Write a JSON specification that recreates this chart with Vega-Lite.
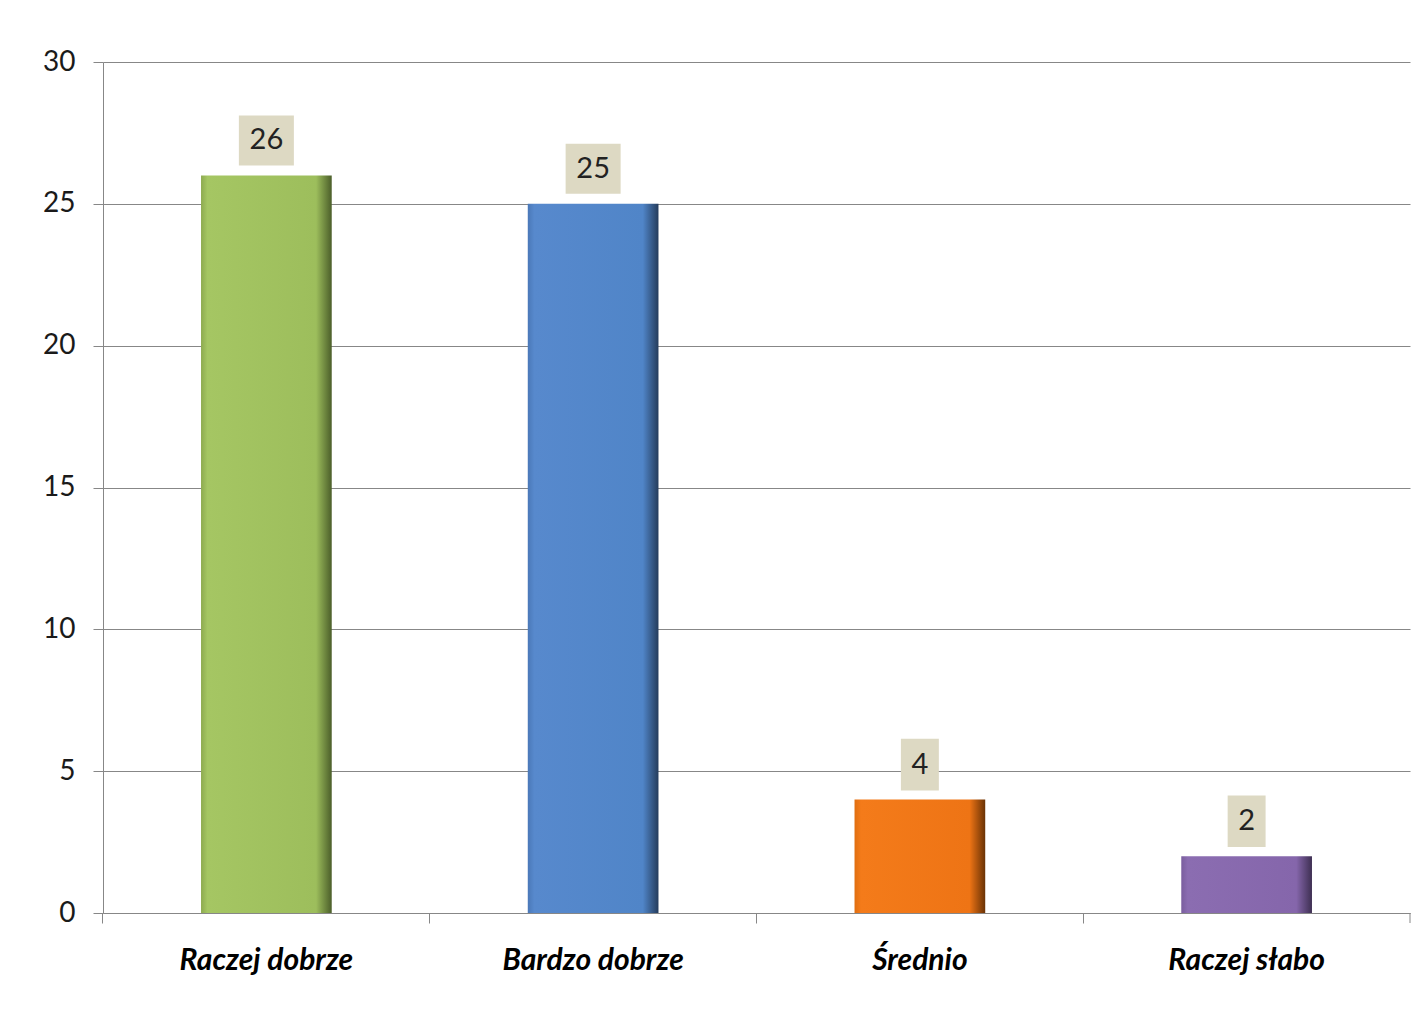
{
  "$schema": "https://vega.github.io/schema/vega-lite/v6.json",
  "width": 1307,
  "height": 851,
  "autosize": {"type": "none"},
  "padding": {"left": 103, "top": 62, "right": 17, "bottom": 113},
  "background": "white",
  "config": {"view": {"stroke": null}, "font": "Lato"},
  "data": {"values": [
    {"k": "Raczej dobrze", "v": 26},
    {"k": "Bardzo dobrze", "v": 25},
    {"k": "Średnio", "v": 4},
    {"k": "Raczej słabo", "v": 2}
  ]},
  "encoding": {
    "x": {"field": "k", "type": "nominal", "sort": null,
      "scale": {"paddingInner": 0.6, "paddingOuter": 0.3},
      "axis": {"title": null, "bandPosition": -0.75, "labelAngle": 0, "grid": false,
        "tickSize": 10, "tickColor": "#878787", "domainColor": "#878787",
        "labelFontSize": 30, "labelFontStyle": "italic", "labelFontWeight": "bold",
        "labelColor": "#000000", "labelPadding": 22, "labelFont": "Lato", "labelLimit": 400}},
    "y": {"field": "v", "type": "quantitative", "scale": {"domain": [0, 30]},
      "axis": {"title": null, "values": [0, 5, 10, 15, 20, 25, 30], "grid": true,
        "gridColor": "#878787", "gridWidth": 1, "tickSize": 10, "tickColor": "#878787",
        "domainColor": "#878787", "labelFontSize": 28, "labelColor": "#1a1a1a",
        "labelPadding": 18, "labelFont": "Lato"}}
  },
  "layer": [
    {"mark": {"type": "bar"},
     "encoding": {"fill": {
       "condition": [
         {"test": "datum.k == 'Raczej dobrze'", "value": {"gradient": "linear", "x1": 0, "y1": 0, "x2": 1, "y2": 0, "stops": [
           {"offset": 0, "color": "#8DAA50"}, {"offset": 0.05, "color": "#A5C663"}, {"offset": 0.88, "color": "#9DBE5C"}, {"offset": 1, "color": "#4B5E2A"}]}},
         {"test": "datum.k == 'Bardzo dobrze'", "value": {"gradient": "linear", "x1": 0, "y1": 0, "x2": 1, "y2": 0, "stops": [
           {"offset": 0, "color": "#4A78B8"}, {"offset": 0.05, "color": "#5789CD"}, {"offset": 0.88, "color": "#5085C8"}, {"offset": 1, "color": "#243C5C"}]}},
         {"test": "datum.k == 'Średnio'", "value": {"gradient": "linear", "x1": 0, "y1": 0, "x2": 1, "y2": 0, "stops": [
           {"offset": 0, "color": "#E06E10"}, {"offset": 0.05, "color": "#F47B1A"}, {"offset": 0.88, "color": "#EE7415"}, {"offset": 1, "color": "#6A3205"}]}}
       ],
       "value": {"gradient": "linear", "x1": 0, "y1": 0, "x2": 1, "y2": 0, "stops": [
         {"offset": 0, "color": "#7A5E9E"}, {"offset": 0.05, "color": "#8B6DB1"}, {"offset": 0.88, "color": "#8566AB"}, {"offset": 1, "color": "#3E2F52"}]}
     }}},
    {"mark": {"type": "point", "filled": true, "size": 3025, "yOffset": -35, "color": "#DDD9C3", "opacity": 1, "strokeWidth": 0},
     "encoding": {"shape": {"condition": {"test": "datum.v >= 10", "value": "M-1,-0.91H1V0.91H-1Z"}, "value": "M-0.69,-0.94H0.69V0.94H-0.69Z"}}},
    {"mark": {"type": "text", "dy": -35, "fontSize": 29, "color": "#222222", "font": "Lato", "baseline": "middle"},
     "encoding": {"text": {"field": "v", "type": "quantitative"}}},
    {"transform": [{"filter": "datum.k == 'Raczej słabo'"}],
     "mark": {"type": "rule", "color": "#878787", "strokeWidth": 1, "y2Offset": 10},
     "encoding": {"x": {"field": "k", "type": "nominal", "sort": null, "bandPosition": 1.75},
       "y": {"datum": 0}, "y2": {"datum": 0}}}
  ]
}
